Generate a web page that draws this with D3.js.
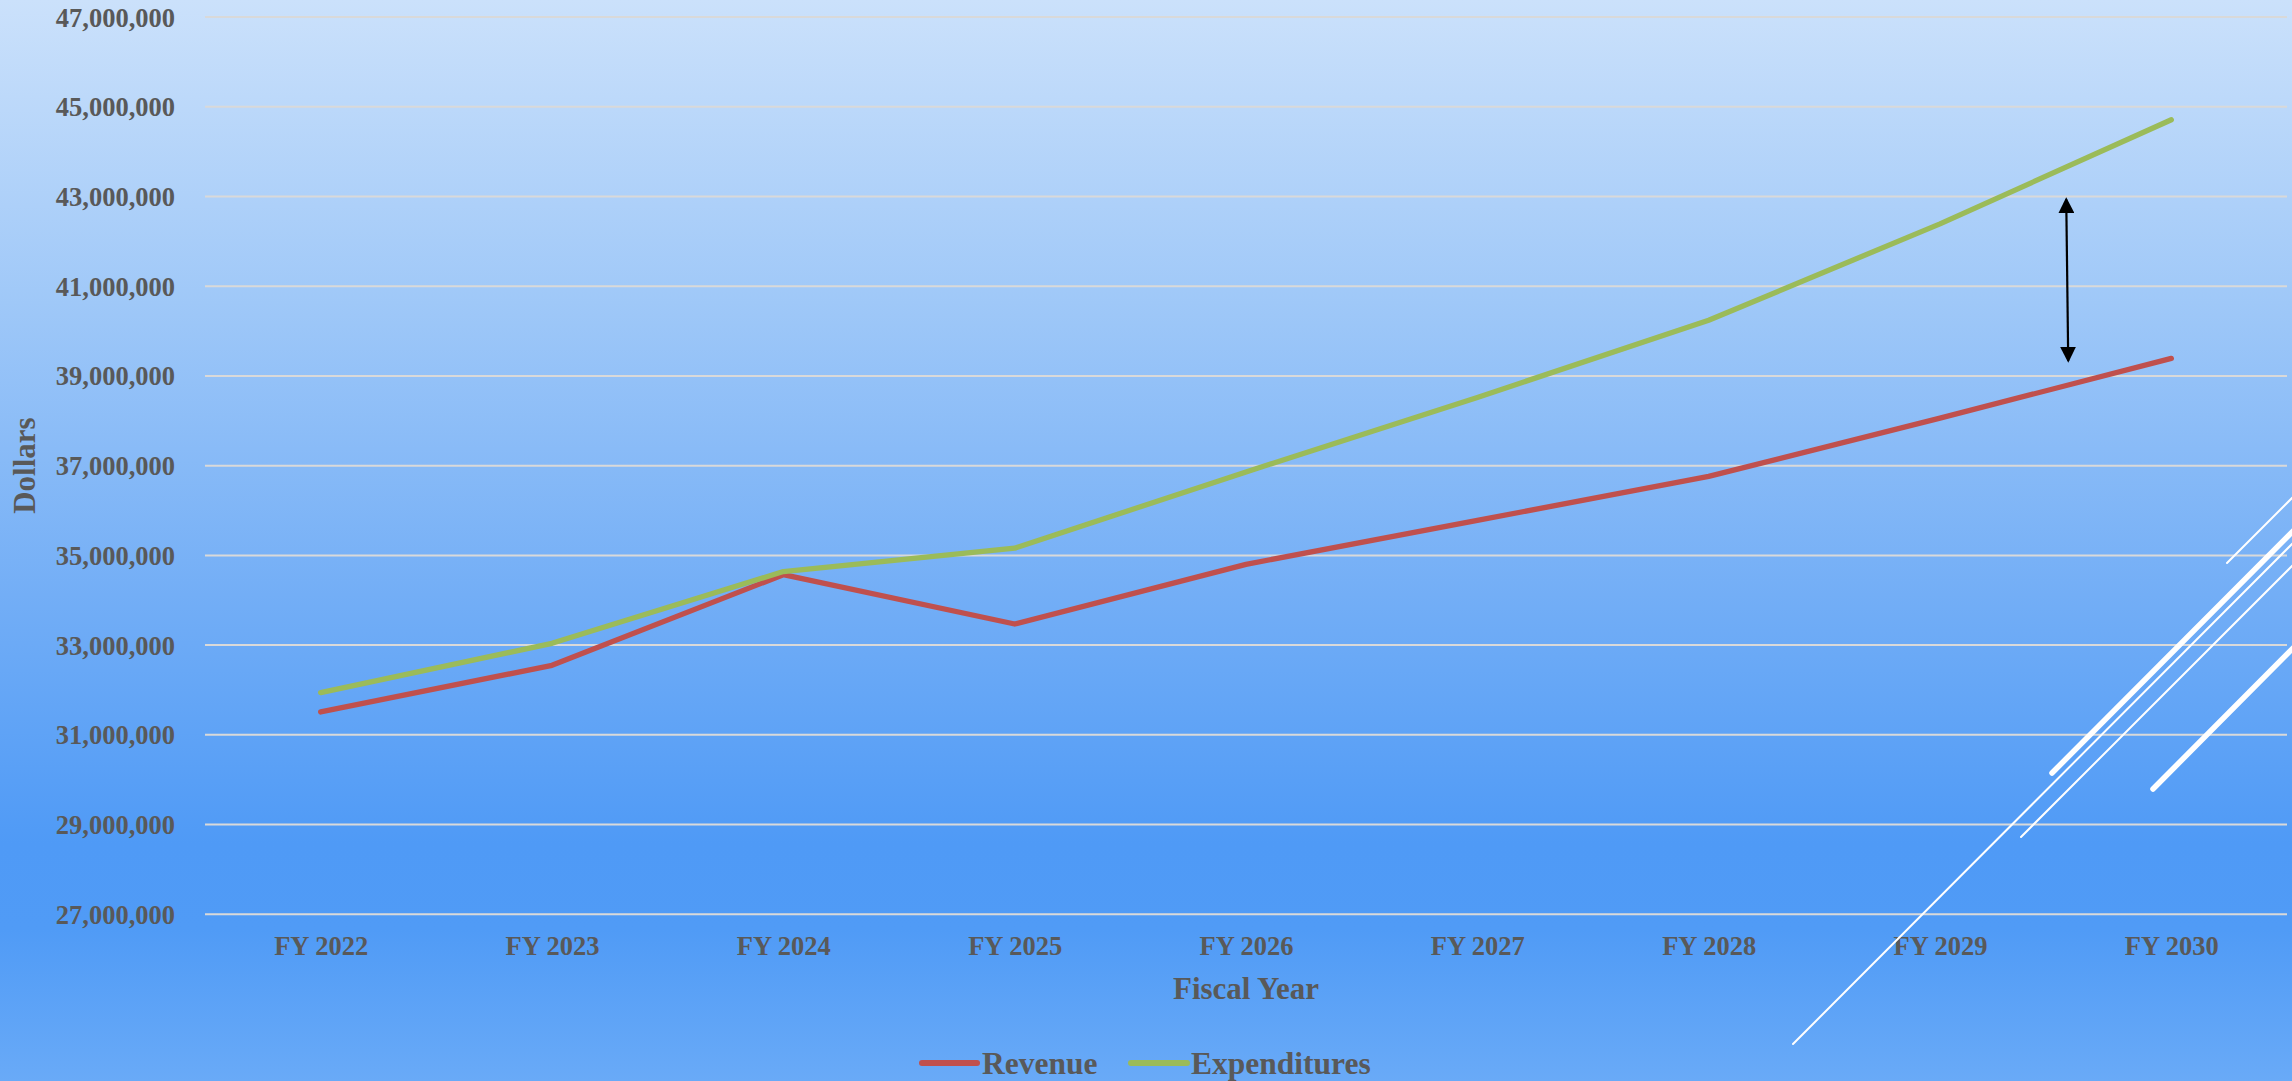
<!DOCTYPE html>
<html>
<head>
<meta charset="utf-8">
<script src="https://cdn.jsdelivr.net/npm/d3@7"></script>
<style>
  html, body { margin: 0; padding: 0; overflow: hidden; }
  svg { display: block; }
</style>
</head>
<body>
<svg id="chart" width="2292" height="1081"></svg>
<script>
// ---- data ----
const categories = ["FY 2022", "FY 2023", "FY 2024", "FY 2025", "FY 2026", "FY 2027", "FY 2028", "FY 2029", "FY 2030"];
const revenue = [31510000, 32550000, 34570000, 33470000, 34800000, 35780000, 36760000, 38060000, 39390000];
const expenditures = [31940000, 33040000, 34640000, 35160000, 36860000, 38520000, 40240000, 42390000, 44710000];
const yTicks = [27000000, 29000000, 31000000, 33000000, 35000000, 37000000, 39000000, 41000000, 43000000, 45000000, 47000000];
const seriesNames = ["Revenue", "Expenditures"];
const xTitle = "Fiscal Year";
const yTitle = "Dollars";
// gap annotation (double arrow) between the two series, in data terms
const gapArrow = { between: ["FY 2029", "FY 2030"], frac: 0.55, from: 42940000, to: 39340000 };

// ---- layout / style ----
const W = 2292, H = 1081;
const plot = { left: 205, right: 2287, top: 17, bottom: 914.3 };
const colors = { Revenue: "#C0504D", Expenditures: "#9BBB59" };
const textColor = "#595959";
const fontFamily = "'Liberation Serif', 'Times New Roman', serif";

const svg = d3.select("#chart");

// background gradient
const defs = svg.append("defs");
const grad = defs.append("linearGradient").attr("id", "bg").attr("x1", 0).attr("y1", 0).attr("x2", 0).attr("y2", 1);
[[0, "#cbe1fb"], [0.28, "#9fc8f8"], [0.55, "#73aef6"], [0.78, "#4f9af6"], [0.86, "#509bf6"], [1, "#69aaf7"]]
  .forEach(([o, c]) => grad.append("stop").attr("offset", o).attr("stop-color", c));
svg.append("rect").attr("width", W).attr("height", H).attr("fill", "url(#bg)");

// arrow marker
defs.append("marker").attr("id", "arrowhead")
  .attr("viewBox", "0 0 16 16").attr("refX", 14).attr("refY", 8)
  .attr("markerUnits", "userSpaceOnUse")
  .attr("markerWidth", 16).attr("markerHeight", 16)
  .attr("orient", "auto-start-reverse")
  .append("path").attr("d", "M0,0 L16,8 L0,16 Z").attr("fill", "#000");

// scales
const x = d3.scalePoint().domain(categories).range([plot.left, plot.right]).padding(0.5);
const y = d3.scaleLinear().domain([27000000, 47000000]).range([plot.bottom, plot.top]);

// gridlines
svg.append("g").selectAll("line").data(yTicks).join("line")
  .attr("x1", plot.left).attr("x2", plot.right)
  .attr("y1", d => y(d)).attr("y2", d => y(d))
  .attr("stroke", "#d9d9d9").attr("stroke-width", 2);

// y axis
const yAxis = d3.axisLeft(y).tickValues(yTicks).tickFormat(d3.format(",")).tickSize(0).tickPadding(30);
const gy = svg.append("g").attr("transform", `translate(${plot.left},0)`).call(yAxis);
gy.select(".domain").remove();
gy.selectAll("text").attr("fill", textColor).attr("font-family", fontFamily)
  .attr("font-weight", "bold").attr("font-size", 26.5).attr("dy", "0.34em");

// x axis
const xAxis = d3.axisBottom(x).tickSize(0).tickPadding(0);
const gx = svg.append("g").attr("transform", `translate(0,${plot.bottom})`).call(xAxis);
gx.select(".domain").remove();
gx.selectAll("text").attr("fill", textColor).attr("font-family", fontFamily)
  .attr("font-weight", "bold").attr("font-size", 26.5).attr("dy", 41);

// axis titles
svg.append("text").text(xTitle)
  .attr("x", (plot.left + plot.right) / 2).attr("y", 999)
  .attr("text-anchor", "middle").attr("fill", textColor).attr("font-family", fontFamily)
  .attr("font-weight", "bold").attr("font-size", 31);
svg.append("text").text(yTitle)
  .attr("transform", `translate(35,${(plot.top + plot.bottom) / 2}) rotate(-90)`)
  .attr("text-anchor", "middle").attr("fill", textColor).attr("font-family", fontFamily)
  .attr("font-weight", "bold").attr("font-size", 31);

// lines
const line = d3.line().x((d, i) => x(categories[i])).y(d => y(d));
const series = [["Revenue", revenue], ["Expenditures", expenditures]];
svg.append("g").selectAll("path").data(series).join("path")
  .attr("d", d => line(d[1]))
  .attr("fill", "none").attr("stroke", d => colors[d[0]])
  .attr("stroke-width", 5.3).attr("stroke-linecap", "round").attr("stroke-linejoin", "round");

// gap arrow
const ax = x(gapArrow.between[0]) + (x(gapArrow.between[1]) - x(gapArrow.between[0])) * gapArrow.frac;
svg.append("line")
  .attr("x1", ax - 1).attr("y1", y(gapArrow.from))
  .attr("x2", ax + 1).attr("y2", y(gapArrow.to))
  .attr("stroke", "#000").attr("stroke-width", 2.2)
  .attr("marker-start", "url(#arrowhead)").attr("marker-end", "url(#arrowhead)");

// legend
const legend = svg.append("g");
const legendItems = [
  { name: "Revenue", x0: 922, x1: 977, tx: 982 },
  { name: "Expenditures", x0: 1131, x1: 1187, tx: 1191 }
];
legendItems.forEach(it => {
  legend.append("line").attr("x1", it.x0).attr("x2", it.x1).attr("y1", 1063).attr("y2", 1063)
    .attr("stroke", colors[it.name]).attr("stroke-width", 6).attr("stroke-linecap", "round");
  legend.append("text").text(it.name).attr("x", it.tx).attr("y", 1074)
    .attr("fill", textColor).attr("font-family", fontFamily)
    .attr("font-weight", "bold").attr("font-size", 31.5);
});

// decorative white strokes (bottom-right), running off the right edge
const deco = [
  { x1: 1793, y1: 1044, x2: 2300, y2: 536, w: 2 },
  { x1: 2021, y1: 837, x2: 2300, y2: 558, w: 2 },
  { x1: 2227, y1: 563, x2: 2300, y2: 490, w: 2 },
  { x1: 2153, y1: 789, x2: 2300, y2: 641, w: 5.5 },
  { x1: 2052, y1: 773, x2: 2300, y2: 524, w: 5.5 }
];
svg.append("g").selectAll("line").data(deco).join("line")
  .attr("x1", d => d.x1).attr("y1", d => d.y1)
  .attr("x2", d => d.x2).attr("y2", d => d.y2)
  .attr("stroke", "#fff").attr("stroke-width", d => d.w).attr("stroke-linecap", "round");
</script>
</body>
</html>
